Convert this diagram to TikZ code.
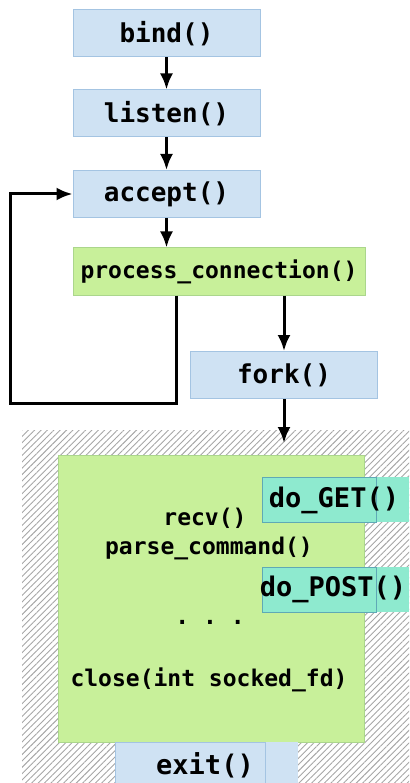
\documentclass[tikz,border=0pt]{standalone}
\usepackage{xcolor}
\usepackage{fontspec}
\setmonofont{DejaVu Sans Mono}
\usepackage{tikz}
\usetikzlibrary{shapes,arrows,arrows.meta,patterns.meta}

\definecolor{callblue}{HTML}{CFE2F3}
\definecolor{callblueline}{HTML}{A4C4E2}
\definecolor{procgreen}{HTML}{C8F09A}
\definecolor{procgreenline}{HTML}{ABD68C}
\definecolor{handlerteal}{HTML}{8EEACF}
\definecolor{handlertealline}{HTML}{5FA9B6}

\tikzset{
  call/.style={draw=callblueline, fill=callblue, line width=1pt,
    minimum width=187pt, minimum height=47pt, inner sep=0pt,
    font=\ttfamily\bfseries\fontsize{26}{28}\selectfont},
  flow/.style={line width=3pt, -{Latex[length=16pt,width=13pt]}},
  code/.style={inner sep=0pt, font=\ttfamily\bfseries\fontsize{23}{25}\selectfont},
  handler/.style={inner sep=0pt, font=\ttfamily\bfseries\fontsize{27}{29}\selectfont}
}

\begin{document}
\begin{tikzpicture}[x=1pt,y=-1pt]
\useasboundingbox (0,0) rectangle (409,783);
%
\node[call] (bind) at (166.5,33.5) {bind()};
\node[call] (listen) at (166.5,113.5) {listen()};
\node[call] (accept) at (166.5,194) {accept()};
\node[call, draw=procgreenline, fill=procgreen, minimum width=292pt,
  font=\ttfamily\bfseries\fontsize{23}{25}\selectfont] (proc) at (219,271.5) {process\_connection()};
\node[call] (fork) at (284,375) {fork()};
%
\draw[flow] (bind) -- (listen);
\draw[flow] (listen) -- (accept);
\draw[flow] (accept.south) -- (accept.south |- proc.north);
\coordinate (loop) at (10,403);
\draw[flow] ([xshift=-43pt]proc.south) |- (loop) |- (accept.west);
\draw[flow] (proc.south -| fork.north) -- (fork.north);
%
% child process
\node[minimum width=387pt, minimum height=353pt, inner sep=0pt,
  pattern={Lines[angle=45,distance=4.5pt,line width=0.9pt]}, pattern color=gray!70]
  (child) at (215.5,606.5) {};
\node[draw=procgreenline, fill=procgreen, minimum width=306pt, minimum height=287pt,
  inner sep=0pt] (body) at (211,598.5) {};
\coordinate (spawn) at (284,443);
\draw[flow] (fork.south) -- (spawn);
%
\fill[handlerteal] (262,477) rectangle (409,522);
\draw[handlertealline, line width=1pt] (262,477) rectangle (376,522);
\node[handler] (get) at (334,500) {do\_GET()};
\fill[handlerteal] (262,567) rectangle (409,612);
\draw[handlertealline, line width=1pt] (262,567) rectangle (376,612);
\node[handler] (post) at (333,589) {do\_POST()};
%
\node[code] (recv) at (205,518) {recv()};
\node[code] (parse) at (209,548) {parse\_command()};
\node[code] (dots) at (210,622) {.\ .\ .};
\node[code] (close) at (209,680) {close(int socked\_fd)};
%
\fill[callblue] (115,742) rectangle (298,790);
\draw[callblueline, line width=1pt] (115,790) -- (115,742) -- (265,742) -- (265,790);
\node[handler] (exit) at (205,765) {exit()};
\end{tikzpicture}
\end{document}
